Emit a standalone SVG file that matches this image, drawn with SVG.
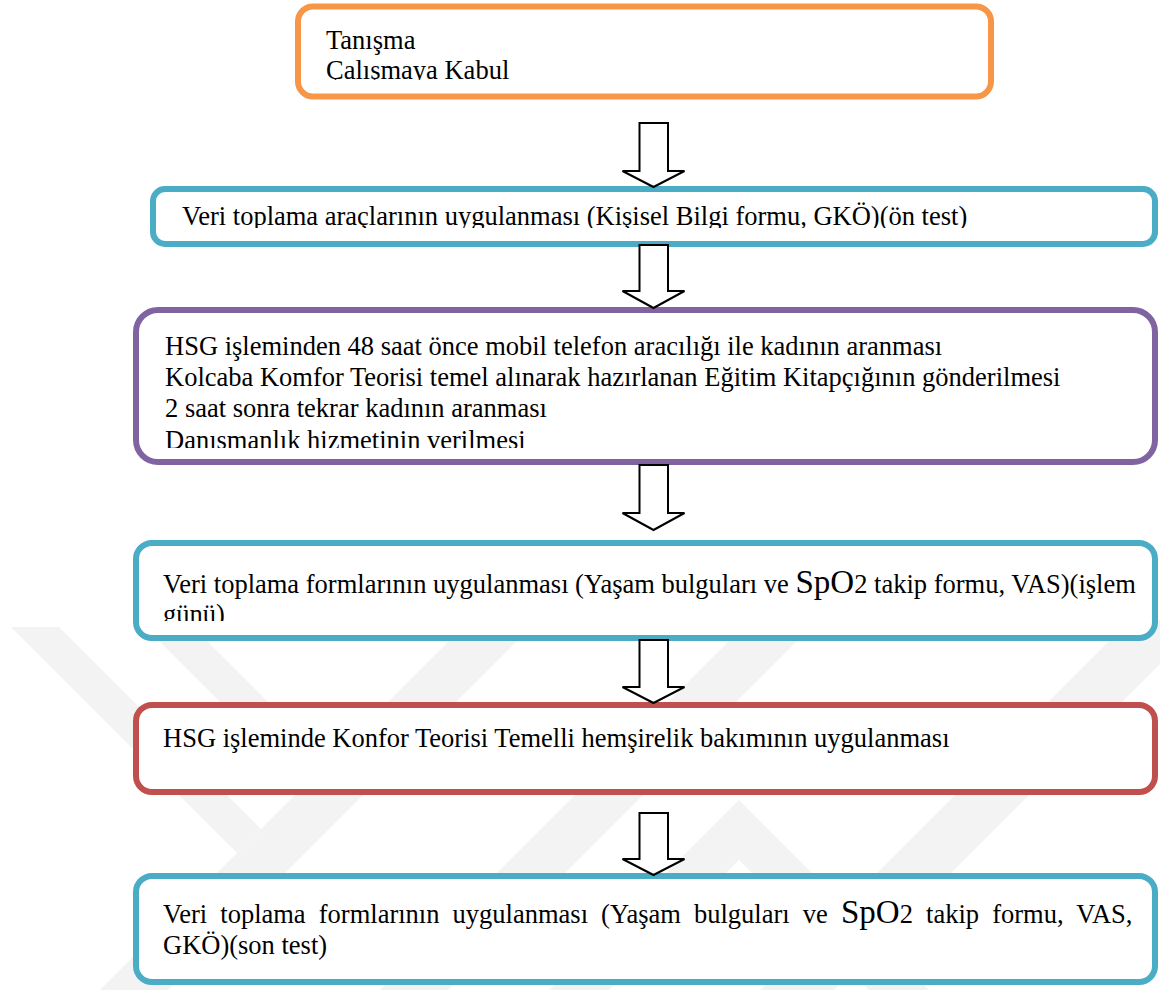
<svg xmlns="http://www.w3.org/2000/svg" width="1160" height="990" viewBox="0 0 1160 990">
  <style>
    .box { fill: #ffffff; stroke-width: 6; }
    .orange { stroke: #F79646; }
    .blue { stroke: #4BACC6; }
    .purple { stroke: #8064A2; }
    .red { stroke: #C0504D; }
    .txt { font-family: "Liberation Serif", "Times New Roman", serif; font-size: 26.5px; fill: #000000; }
    .big { font-size: 33px; }
    .arrow { fill: #ffffff; stroke: #000000; stroke-width: 2; stroke-linejoin: miter; }
    .wm { fill: #f3f3f3; }
  </style>
  <defs>
    <clipPath id="clip-start"><rect x="296" y="0" width="700" height="80"/></clipPath>
    <clipPath id="clip-pretest"><rect x="150" y="180" width="1010" height="48"/></clipPath>
    <clipPath id="clip-call"><rect x="130" y="300" width="1030" height="148"/></clipPath>
    <clipPath id="clip-day"><rect x="130" y="540" width="1030" height="81"/></clipPath>
  </defs>

  <rect width="1160" height="990" fill="#ffffff"/>

  <!-- faint background emblem -->
  <g id="emblem">
    <polygon class="wm" points="11,627 59,627 261,829 237,853"/>
    <polygon class="wm" points="490,600 558,600 168,990 100,990"/>
    <polygon class="wm" points="159,641 207,641 328,762 304,786"/>
    <polygon class="wm" points="770,600 838,600 448,990 380,990"/>
    <polygon class="wm" points="739,800 929,990 869,990 739,860 609,990 549,990"/>
    <polygon class="wm" points="1130,620 1160,620 1160,664 834,990 760,990"/>
  </g>

  <!-- steps -->
  <g id="step-start">
    <rect class="box orange" x="298" y="6.5" width="693" height="90" rx="15"/>
    <g clip-path="url(#clip-start)">
      <text class="txt" x="326" y="49">Tanışma</text>
      <text class="txt" x="326" y="79">Çalışmaya Kabul</text>
    </g>
  </g>

  <g id="step-pretest">
    <rect class="box blue" x="153" y="189" width="1002" height="55" rx="12"/>
    <g clip-path="url(#clip-pretest)">
      <text class="txt" x="182" y="225">Veri toplama araçlarının uygulanması (Kişisel Bilgi formu, GKÖ)(ön test)</text>
    </g>
  </g>

  <g id="step-call">
    <rect class="box purple" x="136" y="310" width="1019" height="152" rx="22"/>
    <g clip-path="url(#clip-call)">
      <text class="txt" x="165" y="355">HSG işleminden 48 saat önce mobil telefon aracılığı ile kadının aranması</text>
      <text class="txt" x="165" y="386">Kolcaba Komfor Teorisi temel alınarak hazırlanan Eğitim Kitapçığının gönderilmesi</text>
      <text class="txt" x="165" y="417">2 saat sonra tekrar kadının aranması</text>
      <text class="txt" x="165" y="449">Danışmanlık hizmetinin verilmesi</text>
    </g>
  </g>

  <g id="step-day">
    <rect class="box blue" x="136" y="543" width="1019" height="95" rx="16"/>
    <g clip-path="url(#clip-day)">
      <text class="txt" x="163" y="593">Veri toplama formlarının uygulanması (Yaşam bulguları ve <tspan class="big">SpO</tspan>2 takip formu, VAS)(işlem</text>
      <text class="txt" x="163" y="623">günü)</text>
    </g>
  </g>

  <g id="step-care">
    <rect class="box red" x="136" y="705" width="1019" height="87" rx="16"/>
    <text class="txt" x="163" y="747">HSG işleminde Konfor Teorisi Temelli hemşirelik bakımının uygulanması</text>
  </g>

  <g id="step-posttest">
    <rect class="box blue" x="136" y="876" width="1019" height="106" rx="16"/>
    <text class="txt" x="163" y="923" word-spacing="6.5">Veri toplama formlarının uygulanması (Yaşam bulguları ve <tspan class="big">SpO</tspan>2 takip formu, VAS,</text>
    <text class="txt" x="163" y="954">GKÖ)(son test)</text>
  </g>

  <!-- block arrows between steps -->
  <g id="connectors">
    <path class="arrow" d="M639.5,123 H668 V171 H684.5 L653.5,187 L622.5,171 H639.5 Z"/>
    <path class="arrow" d="M639.5,245 H668 V291 H684.5 L653.5,308 L622.5,291 H639.5 Z"/>
    <path class="arrow" d="M639.5,465 H668 V513 H684.5 L653.5,530 L622.5,513 H639.5 Z"/>
    <path class="arrow" d="M639.5,640 H668 V687 H684.5 L653.5,703 L622.5,687 H639.5 Z"/>
    <path class="arrow" d="M639.5,813 H668 V859 H684.5 L653.5,875 L622.5,859 H639.5 Z"/>
  </g>
</svg>
